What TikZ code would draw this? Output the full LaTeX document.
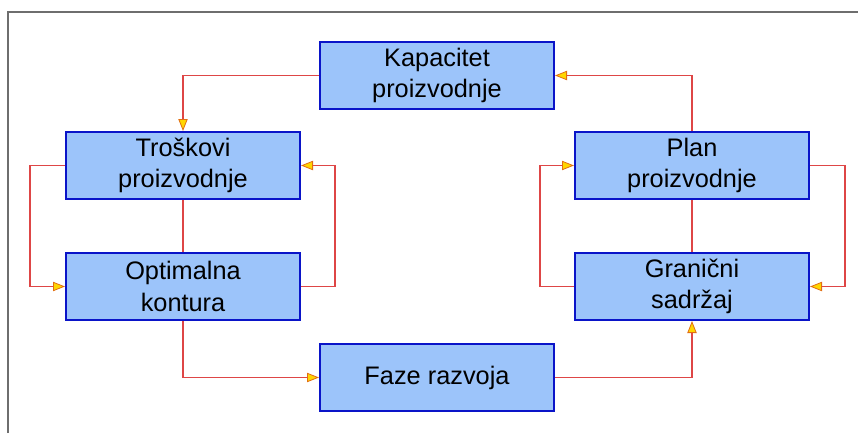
\documentclass[tikz,border=0pt]{standalone}
\usepackage{fontspec}
\setmainfont{Liberation Sans}
\usepackage{tikz}
\usetikzlibrary{arrows.meta,positioning}

\definecolor{boxfill}{RGB}{156,196,250}
\definecolor{boxline}{RGB}{10,20,200}
\definecolor{linkred}{RGB}{222,70,70}
\definecolor{tipfill}{RGB}{255,214,0}
\definecolor{tipline}{RGB}{225,110,20}
\definecolor{framegray}{RGB}{110,110,110}

\tikzset{
  blok/.style={draw=boxline, line width=1.5pt, fill=boxfill, rectangle,
    minimum width=175.5pt, minimum height=50.25pt, inner sep=0pt,
    align=center, font=\fontsize{19pt}{23.5pt}\selectfont},
  veza/.style={draw=linkred, line width=1.1pt},
  vezatip/.style={veza, -{Triangle[length=9pt,width=7pt,fill=tipfill,color=tipline,line width=0.6pt]}}
}

\begin{document}
\begin{tikzpicture}[x=0.75pt,y=0.75pt,yscale=-1]
\useasboundingbox (0,0) rectangle (858,433);

%Frame
\draw [framegray, line width=1.1pt] (8,433) -- (8,12) -- (858,12) ;

%Flowchart: Process
\node [blok] (kapacitet) at (437,75.5) {Kapacitet\\proizvodnje};
%Flowchart: Process
\node [blok] (troskovi) at (183,165.5) {Troškovi\\proizvodnje};
%Flowchart: Process
\node [blok] (plan) at (692,165.5) {Plan\\proizvodnje};
%Flowchart: Process
\node [blok] (optimalna) at (183,286.5) {Optimalna\\kontura};
%Flowchart: Process
\node [blok] (granicni) at (692,286.5) {Granični\\sadržaj};
%Flowchart: Process
\node [blok] (faze) at (437,377.5) {Faze razvoja};

%Connectors
\draw [vezatip] (kapacitet.west) -| (troskovi.north) ;
\draw [vezatip] (plan.north) |- (kapacitet.east) ;
\draw [veza] (troskovi.south) -- (optimalna.north) ;
\draw [veza] (plan.south) -- (granicni.north) ;
\draw [vezatip] (troskovi.west) -- ++(-35,0) |- (optimalna.west) ;
\draw [vezatip] (optimalna.east) -- ++(34,0) |- (troskovi.east) ;
\draw [vezatip] (optimalna.south) |- (faze.west) ;
\draw [vezatip] (faze.east) -| (granicni.south) ;
\draw [vezatip] (granicni.west) -- ++(-34,0) |- (plan.west) ;
\draw [vezatip] (plan.east) -- ++(35,0) |- (granicni.east) ;

\end{tikzpicture}
\end{document}
